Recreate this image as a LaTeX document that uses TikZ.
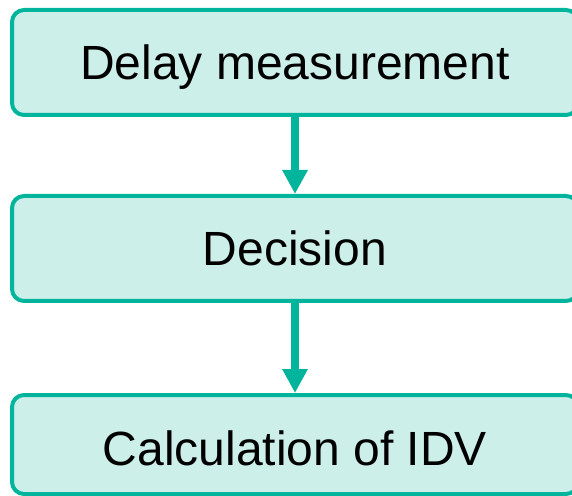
\documentclass[tikz,border=0pt]{standalone}
\usepackage{fontspec}
\setmainfont{Liberation Sans}
\usetikzlibrary{positioning,arrows.meta}
\definecolor{tealline}{HTML}{00B59C}
\definecolor{tealfill}{HTML}{CCEFEA}
\tikzset{
  stage/.style={draw=tealline, fill=tealfill, line width=2pt, rounded corners=6pt,
    minimum width=283pt, minimum height=52.5pt, text height=17pt, text depth=0pt,
    font=\fontsize{24}{28}\selectfont},
  flow/.style={draw=tealline, line width=4pt, -{Triangle[width=12pt,length=12pt]}}
}
\begin{document}
\begin{tikzpicture}[x=0.5pt,y=0.5pt]
\useasboundingbox (0,0) rectangle (572,-496);
\node[stage] (measure) at (295,-62.5) {Delay measurement};
\node[stage] (decide) at (295,-248.5) {Decision};
\node[stage, minimum height=49.5pt, text height=20.5pt] (calc) at (295,-444.5) {Calculation of IDV};
\draw[flow] (measure) -- (decide);
\draw[flow] (decide) -- (calc);
\end{tikzpicture}
\end{document}
